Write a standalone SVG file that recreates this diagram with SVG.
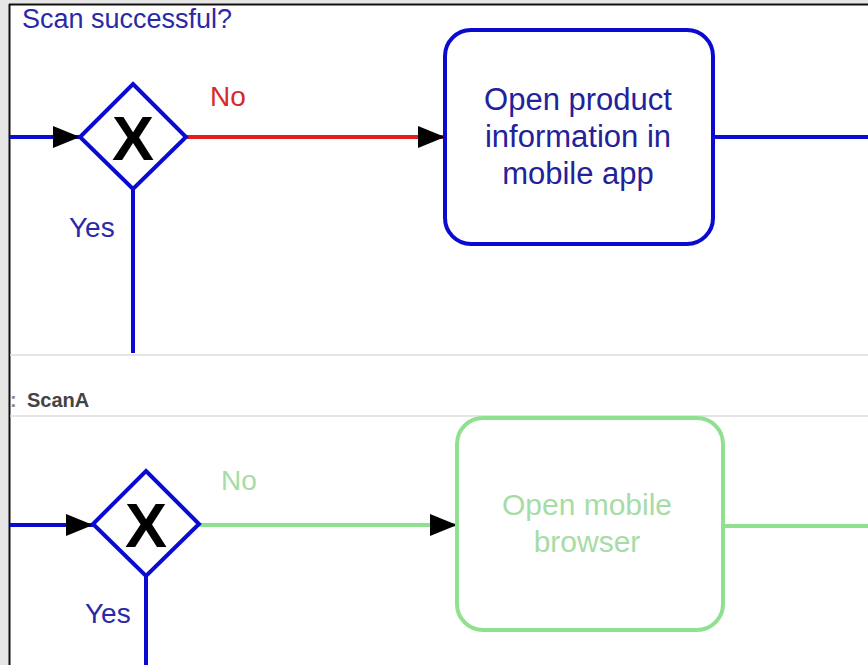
<svg xmlns="http://www.w3.org/2000/svg" width="868" height="665" viewBox="0 0 868 665">
<defs>
<marker id="arr" markerWidth="28" markerHeight="22" refX="27" refY="11" orient="auto" markerUnits="userSpaceOnUse">
<path d="M0,0 L27,11 L0,22 Z" fill="#000"/>
</marker>
<style>
.lbl{font-family:"Liberation Sans",Arial,sans-serif;}
.blue{stroke:#0a0ad0;stroke-width:4;fill:none;}
.red{stroke:#e41c1c;stroke-width:4;fill:none;}
.green{stroke:#8fe08f;stroke-width:4;fill:none;}
.gw{fill:#fff;stroke:#0a0ad0;stroke-width:4;}
.xmark{font-family:"Liberation Sans",Arial,sans-serif;font-weight:bold;font-size:63px;fill:#000;text-anchor:middle;}
.sep{stroke:#dcdcdc;stroke-width:1.5;}
</style>
</defs>
<rect x="0" y="0" width="868" height="665" fill="#e6e6e6"/>
<rect x="10" y="5" width="858" height="660" fill="#fff"/>
<line x1="9.5" y1="4" x2="9.5" y2="665" stroke="#111" stroke-width="2"/>
<line x1="9" y1="4.5" x2="868" y2="4.5" stroke="#111" stroke-width="2"/>
<line class="sep" x1="10" y1="355" x2="868" y2="355"/>
<line class="sep" x1="10" y1="416" x2="868" y2="416"/>
<text class="lbl" x="22" y="28" font-size="27" fill="#2a2aa6">Scan successful?</text>
<text class="lbl" x="10" y="407" font-size="20" font-weight="bold" fill="#888">:</text>
<text class="lbl" x="27" y="407" font-size="20" font-weight="bold" fill="#444">ScanA</text>
<g id="connectors">
<line class="blue" x1="10" y1="137" x2="80" y2="137" marker-end="url(#arr)"/>
<line class="red" x1="186" y1="137" x2="445" y2="137" marker-end="url(#arr)"/>
<line class="blue" x1="133" y1="189" x2="133" y2="353"/>
<line class="blue" x1="713" y1="137" x2="868" y2="137"/>
<text class="lbl" x="210" y="106" font-size="28" fill="#d42a2a">No</text>
<text class="lbl" x="69" y="237" font-size="28" fill="#2a2aa6">Yes</text>
<line class="blue" x1="10" y1="525" x2="93" y2="525" marker-end="url(#arr)"/>
<line class="green" x1="199" y1="525" x2="457" y2="525" marker-end="url(#arr)"/>
<line class="blue" x1="146" y1="576" x2="146" y2="665"/>
<line class="green" x1="723" y1="526" x2="868" y2="526"/>
<text class="lbl" x="221" y="490" font-size="28" fill="#a6dca6">No</text>
<text class="lbl" x="85" y="623" font-size="28" fill="#2a2aa6">Yes</text>
</g>
<g id="gateway1">
<polygon class="gw" points="133,84 186,137 133,189 80,137"/>
<text class="xmark" x="133" y="160">X</text>
</g>
<g id="task1">
<rect x="445" y="30" width="268" height="214" rx="26" fill="#fff" stroke="#0a0ad0" stroke-width="4"/>
<text class="lbl" x="578" y="110" font-size="31" fill="#22229a" text-anchor="middle">Open product</text>
<text class="lbl" x="578" y="147" font-size="31" fill="#22229a" text-anchor="middle">information in</text>
<text class="lbl" x="578" y="184" font-size="31" fill="#22229a" text-anchor="middle">mobile app</text>
</g>
<g id="gateway2">
<polygon class="gw" points="146,471 199,524 146,576 93,524"/>
<text class="xmark" x="146" y="547">X</text>
</g>
<g id="task2">
<rect x="457" y="418" width="266" height="212" rx="26" fill="#fff" stroke="#8fe08f" stroke-width="4"/>
<text class="lbl" x="587" y="515" font-size="30" fill="#a6dca6" text-anchor="middle">Open mobile</text>
<text class="lbl" x="587" y="552" font-size="30" fill="#a6dca6" text-anchor="middle">browser</text>
</g>
</svg>
